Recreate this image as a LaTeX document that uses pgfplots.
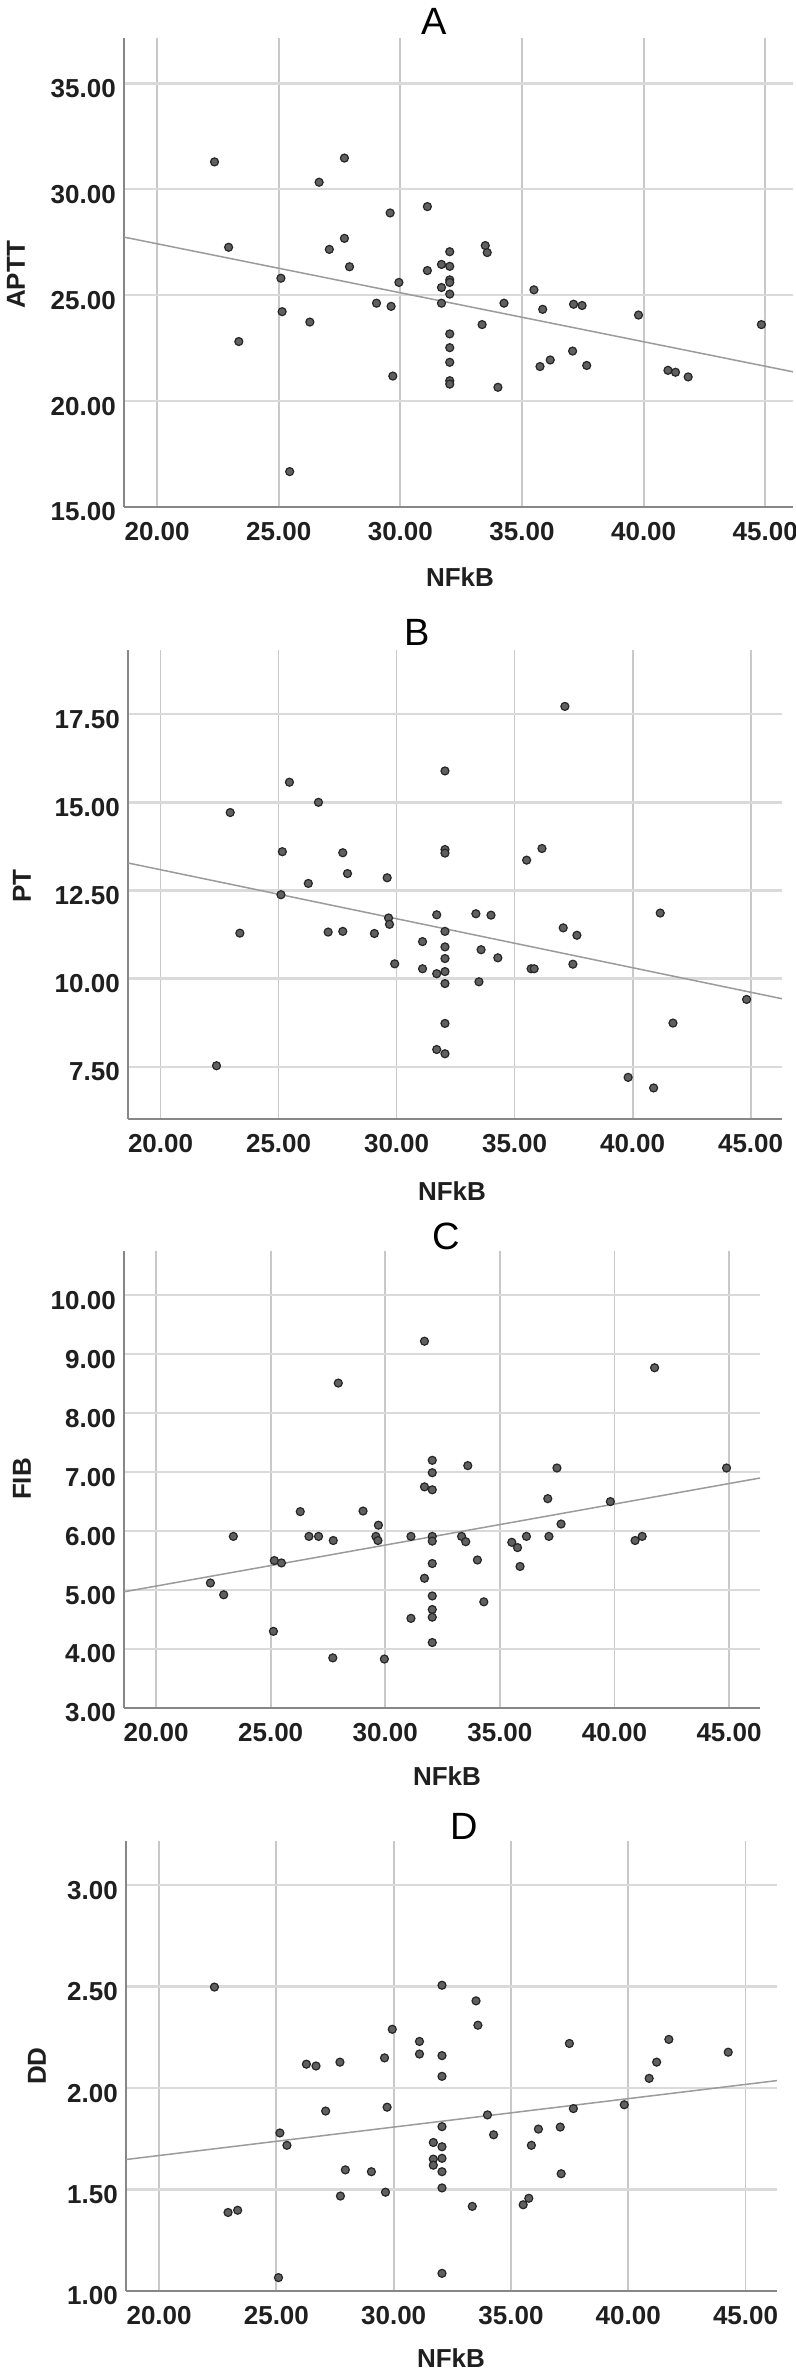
\documentclass[border=0pt]{standalone}
\usepackage{fontspec}
\setmainfont{Liberation Sans}
\usepackage{pgfplots}
\usepackage{pgfplotstable}
\pgfplotsset{compat=1.18}

\definecolor{gridgray}{RGB}{200,200,200}
\definecolor{hgridgray}{RGB}{218,218,218}
\definecolor{axisgray}{RGB}{135,135,135}
\definecolor{fitgray}{RGB}{155,155,155}
\definecolor{dotfill}{RGB}{96,96,96}
\definecolor{dotedge}{RGB}{38,38,38}

% NFkB against the four coagulation measures
\pgfplotstableread{
x y
22.36 31.29
27.70 31.47
26.66 30.33
31.11 29.18
29.58 28.88
22.94 27.26
27.70 27.68
27.08 27.16
33.49 27.34
33.57 27.01
32.03 27.05
27.91 26.34
31.69 26.45
32.03 26.36
31.11 26.16
25.09 25.80
29.94 25.60
32.03 25.72
32.03 25.60
31.69 25.36
32.03 25.05
35.49 25.25
29.02 24.62
29.62 24.47
31.69 24.62
34.26 24.62
37.12 24.57
37.47 24.51
35.85 24.33
25.14 24.22
39.79 24.06
26.28 23.73
33.36 23.61
44.84 23.61
32.03 23.17
23.36 22.81
32.03 22.52
37.08 22.36
32.03 21.83
36.16 21.94
35.74 21.63
37.66 21.68
41.00 21.45
41.31 21.36
41.83 21.14
29.69 21.18
32.03 20.96
32.03 20.80
34.01 20.65
25.45 16.67
}\aptt

\pgfplotstableread{
x y
37.13 17.72
32.05 15.89
25.46 15.57
26.69 15.00
22.95 14.71
32.05 13.66
32.05 13.56
36.16 13.69
25.16 13.60
27.72 13.57
35.51 13.36
27.92 12.98
29.60 12.86
26.26 12.70
25.10 12.38
31.70 11.81
33.36 11.84
34.00 11.80
41.17 11.86
29.66 11.72
29.70 11.54
37.06 11.44
23.36 11.29
27.10 11.32
27.72 11.34
32.05 11.34
29.06 11.28
37.64 11.23
31.10 11.05
32.05 10.90
33.58 10.82
32.05 10.57
34.29 10.59
29.92 10.42
37.47 10.41
31.10 10.28
35.70 10.28
35.83 10.28
31.70 10.14
32.05 10.20
32.05 9.86
33.49 9.91
44.83 9.41
32.05 8.73
41.71 8.74
31.70 7.99
32.05 7.87
22.37 7.53
39.81 7.20
40.89 6.90
}\pt

\pgfplotstableread{
x y
31.71 9.22
41.75 8.77
27.95 8.51
32.05 7.20
33.60 7.11
37.49 7.07
44.89 7.07
32.05 6.99
31.71 6.75
32.05 6.70
37.09 6.55
39.82 6.50
26.29 6.33
29.03 6.34
29.70 6.10
37.67 6.12
23.37 5.91
26.67 5.91
27.09 5.91
29.59 5.91
31.12 5.91
32.05 5.91
33.33 5.91
36.16 5.91
37.14 5.91
41.21 5.91
40.90 5.84
27.73 5.84
29.68 5.84
32.05 5.83
33.51 5.82
35.52 5.81
35.77 5.72
34.02 5.51
25.16 5.50
25.47 5.46
32.05 5.45
35.88 5.40
31.71 5.20
22.37 5.12
22.95 4.92
32.05 4.90
34.30 4.80
32.05 4.67
32.05 4.54
31.12 4.52
25.12 4.30
32.05 4.11
27.71 3.85
29.96 3.83
}\fib

\pgfplotstableread{
x y
22.36 2.498
32.06 2.507
33.51 2.430
33.59 2.310
29.94 2.290
31.10 2.230
37.49 2.220
41.73 2.240
44.26 2.177
31.10 2.168
32.06 2.160
29.61 2.149
26.28 2.118
26.69 2.109
27.71 2.128
41.21 2.128
32.06 2.058
40.89 2.048
39.83 1.918
29.72 1.906
37.66 1.899
27.10 1.887
34.00 1.868
32.06 1.810
37.10 1.808
36.17 1.798
25.15 1.779
34.26 1.770
31.69 1.732
25.45 1.718
35.87 1.718
32.06 1.711
31.69 1.650
32.06 1.654
31.69 1.620
27.94 1.597
29.05 1.588
32.06 1.588
37.14 1.578
29.65 1.487
32.06 1.508
27.73 1.468
35.76 1.457
35.52 1.425
33.35 1.417
23.35 1.398
22.94 1.387
32.06 1.087
25.09 1.066
}\dd

\pgfplotsset{
  scatterpanel/.style={
    scale only axis,
    anchor=south west,
    axis x line*=bottom,
    axis y line*=left,
    axis line style={draw=axisgray, line width=2pt},
    grid=major,
    major x grid style={draw=gridgray, line width=1.8pt},
    major y grid style={draw=hgridgray, line width=2.4pt},
    major tick length=0pt,
    xtick={20,25,30,35,40,45},
    tick label style={font=\bfseries\fontsize{26}{26}\selectfont, inner sep=0pt, text=black!88},
    xticklabel style={yshift=-15pt},
    yticklabel style={xshift=-8pt, yshift=-5pt},
    /pgf/number format/fixed,
    /pgf/number format/fixed zerofill,
    /pgf/number format/precision=2,
    /pgf/number format/assume math mode=true,
  },
  fitline/.style={draw=fitgray, line width=1.5pt, no marks},
  dots/.style={only marks, mark=*, mark size=4pt,
    mark options={fill=dotfill, draw=dotedge, line width=1.2pt}},
}

\begin{document}
\begin{tikzpicture}
\useasboundingbox (0,0) rectangle (795pt,2379pt);
\fill[white] (0,0) rectangle (795pt,2379pt);

% A: APTT
\begin{axis}[scatterpanel, at={(124pt,1872pt)}, width=669pt, height=469pt,
  xmin=18.64, xmax=46.14, ymin=15, ymax=37.14, ytick={15,20,25,30,35}]
  \addplot[fitline] coordinates {(18.64,27.74) (46.14,21.38)};
  \addplot[dots] table[x=x, y=y] {\aptt};
\end{axis}

% B: PT
\begin{axis}[scatterpanel, at={(128pt,1260pt)}, width=654pt, height=469pt,
  xmin=18.62, xmax=46.33, ymin=6.02, ymax=19.32, ytick={7.5,10,12.5,15,17.5}]
  \addplot[fitline] coordinates {(18.62,13.28) (46.33,9.43)};
  \addplot[dots] table[x=x, y=y] {\pt};
\end{axis}

% C: FIB
\begin{axis}[scatterpanel, at={(124pt,671pt)}, width=636pt, height=457pt,
  xmin=18.6, xmax=46.35, ymin=3, ymax=10.75, ytick={3,4,5,6,7,8,9,10}]
  \addplot[fitline] coordinates {(18.6,4.97) (46.35,6.90)};
  \addplot[dots] table[x=x, y=y] {\fib};
\end{axis}

% D: DD
\begin{axis}[scatterpanel, at={(126pt,88pt)}, width=651pt, height=450pt,
  xmin=18.59, xmax=46.34, ymin=1, ymax=3.218, ytick={1,1.5,2,2.5,3}]
  \addplot[fitline] coordinates {(18.59,1.648) (46.34,2.037)};
  \addplot[dots] table[x=x, y=y] {\dd};
\end{axis}

% panel titles
\begin{scope}[every node/.style={font=\fontsize{38}{38}\selectfont, text=black}]
  \node at (434pt,2358pt) {A};
  \node at (417pt,1747pt) {B};
  \node at (446pt,1143pt) {C};
  \node at (464pt,553pt) {D};
\end{scope}

% axis titles
\begin{scope}[every node/.style={font=\bfseries\fontsize{26}{26}\selectfont, text=black!88}]
  \node at (460pt,1802pt) {NFkB};
  \node at (452pt,1188pt) {NFkB};
  \node at (447pt,603pt) {NFkB};
  \node at (451pt,21pt) {NFkB};
  \node[rotate=90] at (16pt,2104pt) {APTT};
  \node[rotate=90] at (22pt,1493pt) {PT};
  \node[rotate=90] at (22pt,900pt) {FIB};
  \node[rotate=90] at (37pt,313pt) {DD};
\end{scope}
\end{tikzpicture}
\end{document}
